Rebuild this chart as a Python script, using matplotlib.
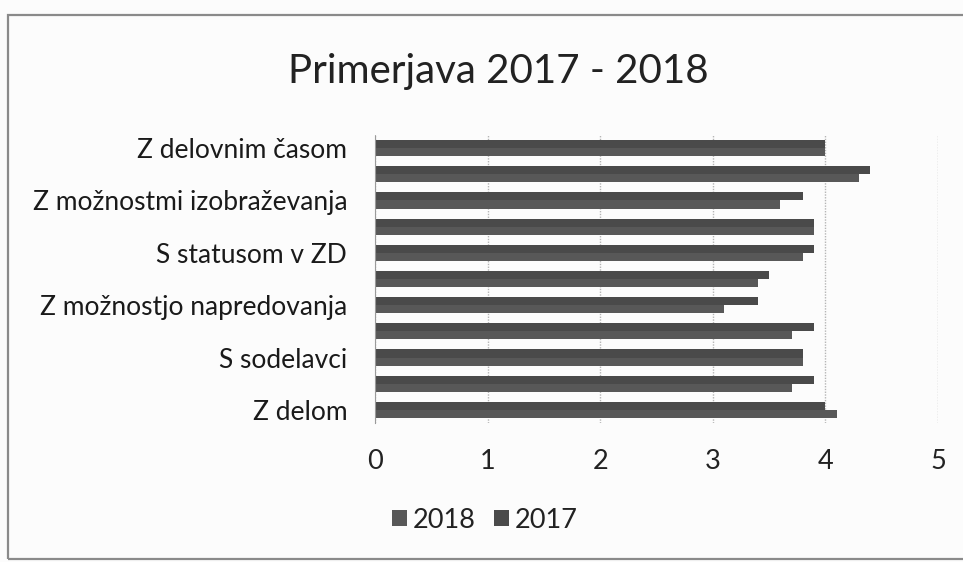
import matplotlib.pyplot as plt
import numpy as np
from matplotlib.patches import Rectangle

# categories bottom -> top (Excel order); only every other label is shown
categories = ["Z delom", "(skrito 1)", "S sodelavci", "(skrito 2)",
              "Z možnostjo napredovanja", "(skrito 3)", "S statusom v ZD",
              "(skrito 4)", "Z možnostmi izobraževanja", "(skrito 5)",
              "Z delovnim časom"]
val_2018 = [4.1, 3.7, 3.8, 3.7, 3.1, 3.4, 3.8, 3.9, 3.6, 4.3, 4.0]
val_2017 = [4.0, 3.9, 3.8, 3.9, 3.4, 3.5, 3.9, 3.9, 3.8, 4.4, 4.0]
x_ticks = [0, 1, 2, 3, 4, 5]

plt.rcParams['font.family'] = ['Lato', 'DejaVu Sans']

fig = plt.figure(figsize=(9.63, 5.62), dpi=100)
fig.patch.set_facecolor('#fcfcfc')

# chart border (cut off at the right edge in the photo)
fig.patches.append(Rectangle((8 / 963, 1 - 559 / 562), 1.0, (559 - 15) / 562,
                             transform=fig.transFigure, fill=False,
                             edgecolor='#8a8a8a', linewidth=1.6))

ax = fig.add_axes([375 / 963, 1 - 423 / 562, (938 - 375) / 963, (423 - 135) / 562])
ax.set_facecolor('none')

y = np.arange(len(categories))
h = 0.31
ax.barh(y - h / 2, val_2018, height=h, color='#585858', label='2018')
ax.barh(y + h / 2, val_2017, height=h, color='#4a4a4a', label='2017')

ax.set_xlim(0, 5)
ax.set_ylim(-0.5, len(categories) - 0.5)
ax.set_xticks(x_ticks)
ax.set_xticklabels([str(t) for t in x_ticks], fontsize=19.5, color='#222222')
ax.set_yticks(y[::2])
ax.set_yticklabels(categories[::2], fontsize=19, color='#1a1a1a')
ax.tick_params(axis='both', length=0)
ax.tick_params(axis='x', pad=19)
ax.tick_params(axis='y', pad=20)

ax.grid(axis='x', color='#b5b5b5', linestyle=(0, (1, 1)), linewidth=1.0)
ax.set_axisbelow(True)
for s in ['top', 'right', 'bottom']:
    ax.spines[s].set_visible(False)
ax.spines['left'].set_color('#9a9a9a')
ax.spines['left'].set_linestyle((0, (1, 1)))

fig.text(498 / 963, 1 - 72 / 562, 'Primerjava 2017 - 2018', ha='center', va='center',
         fontsize=29, color='#222222')

leg = fig.legend(loc='center', bbox_to_anchor=(485 / 963, 1 - 520 / 562), ncol=2,
                 frameon=False, fontsize=19.5, handlelength=0.55, handleheight=0.55,
                 handletextpad=0.2, columnspacing=0.7)
for t in leg.get_texts():
    t.set_color('#222222')

fig.savefig('out.png', dpi=100, facecolor=fig.get_facecolor())
